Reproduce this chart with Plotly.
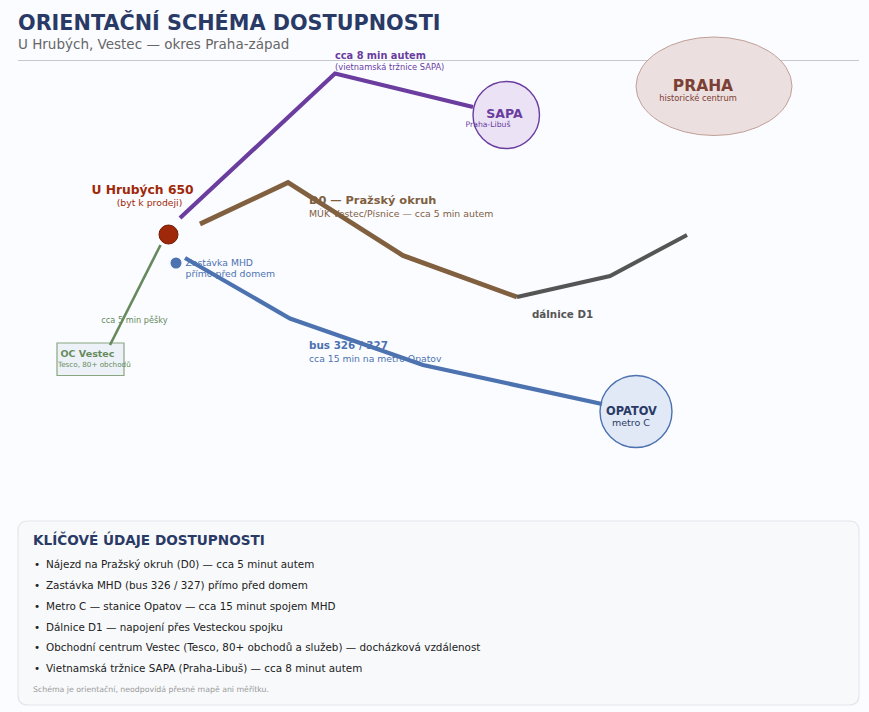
import plotly.graph_objects as go

NAVY = "#2a3a66"
PURPLE = "#6a3d9f"
BROWN = "#80603f"
GREY = "#555555"
BLUE = "#4c72b0"
GREEN = "#668a5c"
RED = "#a0280a"
PRAGUE = "#7a4033"
BODY = "#222222"

# routes (page pixels)
sapa_x = [180, 335, 473]
sapa_y = [218, 73.5, 107]
d0_x = [200, 288, 403, 517]
d0_y = [224, 182.5, 255.5, 297]
d1_x = [517, 610, 687]
d1_y = [297, 276, 235]
bus_x = [185, 290, 423, 602]
bus_y = [258, 318.5, 365, 404]
walk_x = [160.5, 110]
walk_y = [245, 345]

# left aligned labels
left_text = [
    "<b>ORIENTAČNÍ SCHÉMA DOSTUPNOSTI</b>", "U Hrubých, Vestec — okres Praha-západ",
    "<b>cca 8 min autem</b>", "(vietnamská tržnice SAPA)",
    "<b>D0 — Pražský okruh</b>", "MÚK Vestec/Písnice — cca 5 min autem",
    "Zastávka MHD", "přímo před domem",
    "<b>bus 326 / 327</b>", "cca 15 min na metro Opatov",
    "<b>dálnice D1</b>", "<b>OC Vestec</b>", "Tesco, 80+ obchodů",
    "<b>KLÍČOVÉ ÚDAJE DOSTUPNOSTI</b>",
    "•", "Nájezd na Pražský okruh (D0) — cca 5 minut autem",
    "•", "Zastávka MHD (bus 326 / 327) přímo před domem",
    "•", "Metro C — stanice Opatov — cca 15 minut spojem MHD",
    "•", "Dálnice D1 — napojení přes Vesteckou spojku",
    "•", "Obchodní centrum Vestec (Tesco, 80+ obchodů a služeb) — docházková vzdálenost",
    "•", "Vietnamská tržnice SAPA (Praha-Libuš) — cca 8 minut autem",
    "Schéma je orientační, neodpovídá přesné mapě ani měřítku.",
]
left_x = [18, 18, 335, 335, 309, 309, 185.5, 185.5, 309, 309, 532, 60.5, 58,
          33, 34, 46, 34, 46, 34, 46, 34, 46, 34, 46, 34, 46, 33]
left_y = [24.5, 46, 57, 68, 201, 215, 263.5, 275, 346, 359.5, 315, 354.5, 365.5,
          541.5, 565.5, 565.5, 586, 586, 607, 607, 628, 628, 648.5, 648.5, 669.5, 669.5, 690]
left_size = [20.75, 13.5, 9.8, 8.3, 11.35, 9.35, 9.25, 9.3, 10.4, 9.25, 10.3, 9.5, 7.2,
             13.6, 10.38, 10.38, 10.38, 10.38, 10.38, 10.38, 10.38, 10.38, 10.38, 10.38, 10.38, 10.38, 7.8]
left_color = [NAVY, "#666666", PURPLE, PURPLE, BROWN, BROWN, BLUE, BLUE, BLUE, BLUE, GREY, GREEN, GREEN,
              NAVY, BODY, BODY, BODY, BODY, BODY, BODY, BODY,
              BODY, BODY, BODY, BODY, BODY, "#999999"]

# centred labels
mid_text = [
    "<b>U Hrubých 650</b>", "(byt k prodeji)", "cca 5 min pěšky",
    "<b>SAPA</b>", "Praha-Libuš", "<b>PRAHA</b>", "historické centrum",
    "<b>OPATOV</b>", "metro C",
]
mid_x = [142.5, 149.5, 134.5, 504.5, 488, 703, 698, 631.5, 631]
mid_y = [191, 203.5, 321, 115, 125, 87, 99, 412, 424]
mid_size = [12.3, 9.3, 8.2, 12.5, 7.7, 15.5, 8.3, 11.4, 9.5]
mid_color = [RED, RED, GREEN, PURPLE, PURPLE, PRAGUE, PRAGUE, NAVY, NAVY]

fig = go.Figure()

# text goes in first, the routes are drawn over it
fig.add_trace(go.Scatter(x=left_x, y=left_y, text=left_text, mode="text", textposition="middle right",
                         textfont=dict(size=left_size, color=left_color)))
fig.add_trace(go.Scatter(x=mid_x, y=mid_y, text=mid_text, mode="text", textposition="middle center",
                         textfont=dict(size=mid_size, color=mid_color)))

for xs, ys, color, width in [(walk_x, walk_y, GREEN, 2.6), (sapa_x, sapa_y, PURPLE, 4.2),
                             (d0_x, d0_y, BROWN, 4.8), (d1_x, d1_y, GREY, 4), (bus_x, bus_y, BLUE, 4.2)]:
    fig.add_trace(go.Scatter(x=xs, y=ys, mode="lines", line=dict(color=color, width=width)))

fig.add_trace(go.Scatter(x=[168.5], y=[234.5], mode="markers",
                         marker=dict(size=19, color=RED, line=dict(color="#6e1a05", width=1))))
fig.add_trace(go.Scatter(x=[176], y=[263], mode="markers", marker=dict(size=11, color=BLUE)))

shapes = [
    dict(type="line", x0=18, x1=859, y0=60.5, y1=60.5, line=dict(color="#c8c8cc", width=1)),
    dict(type="circle", x0=636, x1=792, y0=37, y1=135.5, fillcolor="#ecdfdf", line=dict(color="#c0a098", width=1)),
    dict(type="circle", x0=473, x1=539.5, y0=81.5, y1=148.5, fillcolor="#ebe3f5", line=dict(color=PURPLE, width=1.4)),
    dict(type="circle", x0=600, x1=672, y0=375.5, y1=447.5, fillcolor="#e1e9f6", line=dict(color=BLUE, width=1.4)),
    dict(type="rect", x0=57, x1=124, y0=343, y1=375.5, fillcolor="#edf2f8", line=dict(color="#8aa680", width=1.2)),
    dict(type="path", line=dict(color="#e4e6ea", width=1.2), fillcolor="#f8f9fb",
         path="M 28 521 L 849 521 Q 859 521 859 531 L 859 695 Q 859 705 849 705 "
              "L 28 705 Q 18 705 18 695 L 18 531 Q 18 521 28 521 Z"),
]
for s in shapes:
    s["layer"] = "below"

fig.update_layout(
    width=869, height=712, margin=dict(l=0, r=0, t=0, b=0),
    paper_bgcolor="#fbfcff", plot_bgcolor="#fbfcff",
    font=dict(family="DejaVu Sans"), showlegend=False, hovermode=False, shapes=shapes,
    xaxis=dict(range=[0, 869], visible=False, fixedrange=True),
    yaxis=dict(range=[712, 0], visible=False, fixedrange=True),
)

fig.write_html("out.html", config=dict(displayModeBar=False),
               post_script="document.body.style.margin='0';")
